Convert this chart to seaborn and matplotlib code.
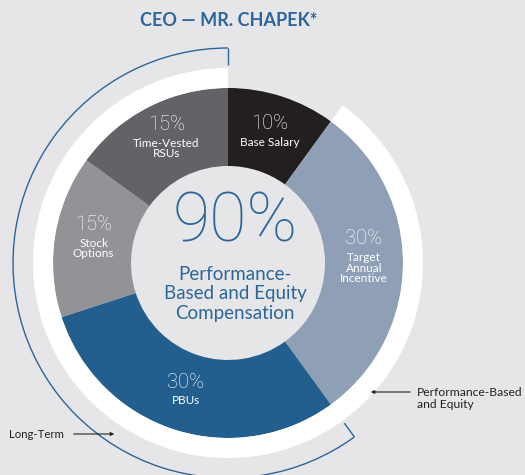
import numpy as np
import matplotlib
matplotlib.use("Agg")
import matplotlib.pyplot as plt
from matplotlib.patches import Arc
import seaborn as sns

# ---------------- data ----------------
title = "CEO — MR. CHAPEK*"
components = ["Base Salary", "Target\nAnnual\nIncentive", "PBUs", "Stock\nOptions", "Time-Vested\nRSUs"]
shares = [10, 30, 30, 15, 15]
share_labels = ["10%", "30%", "30%", "15%", "15%"]
perf_equity = [False, True, True, True, True]
long_term = [False, False, True, True, True]
center_value = "90%"
center_caption = "Performance-\nBased and Equity\nCompensation"
perf_label = "Performance-Based\nand Equity"
lt_label = "Long-Term"

# ---------------- style ----------------
sns.set_theme(style="white")
plt.rcParams["font.family"] = ["Lato", "DejaVu Sans"]
NUMFONT = ["Roboto", "DejaVu Sans"]
BG = "#e6e6e8"
BLUE = "#2b6599"
colors = sns.color_palette(["#231f20", "#8fa0b6", "#225f8f", "#929396", "#626366"])

fig = plt.figure(figsize=(5.25, 4.75), dpi=100, facecolor=BG)
ax = fig.add_axes([0, 0, 1, 1])
ax.set_facecolor(BG)

C = (228, 212)
R, R_IN = 175, 97
total = sum(shares)

# main donut
ax.pie(shares, colors=colors, startangle=90, counterclock=False, radius=R,
       center=C, wedgeprops=dict(width=R - R_IN, linewidth=0))

# white ring around performance-based and equity components
pe_sum = sum(s for s, p in zip(shares, perf_equity) if p)
ax.pie([total - pe_sum, pe_sum], colors=["none", "white"], startangle=90,
       counterclock=False, radius=R + 20, center=C,
       wedgeprops=dict(width=20, linewidth=0))

# long-term bracket arc
first_lt = long_term.index(True)
start_cw = 360 * sum(shares[:first_lt]) / total
end_cw = 360 * sum(shares) / total
th_start = 90 - end_cw
th_end = 90 - start_cw
RA = 215
ax.add_patch(Arc(C, 2 * RA, 2 * RA, theta1=th_start, theta2=th_end,
                 color=BLUE, lw=1.0))
for th in (th_start, th_end):
    t = np.deg2rad(th)
    ax.plot([C[0] + 198 * np.cos(t), C[0] + RA * np.cos(t)],
            [C[1] + 198 * np.sin(t), C[1] + RA * np.sin(t)],
            color=BLUE, lw=1.0, solid_capstyle="butt")

# segment labels
cum = 0
for name, s, lab in zip(components, shares, share_labels):
    mid = 360 * (cum + s / 2) / total
    cum += s
    t = np.deg2rad(90 - mid)
    x = C[0] + 136 * np.cos(t)
    y = C[1] + 136 * np.sin(t)
    n = name.count("\n") + 1
    ax.text(x, y + 10 + 7 * (n - 1), lab, ha="center", va="center",
            color="white", fontsize=14.5, fontweight="light", family=NUMFONT)
    ax.text(x, y - 3 + 7 * (n - 1), name, ha="center", va="top",
            color="white", fontsize=8.5, linespacing=0.95)

# centre text
ax.text(235, 252, center_value, ha="center", va="center", color=BLUE,
        fontsize=49, fontweight="light", family=NUMFONT)
ax.text(235, 181, center_caption, ha="center", va="center", color=BLUE,
        fontsize=13.5, linespacing=1.2)

# title
ax.text(229, 455, title, ha="center", va="center", color=BLUE,
        fontsize=13, fontweight="bold")

# annotations
ax.annotate("", xy=(368, 83), xytext=(413, 83),
            arrowprops=dict(arrowstyle="-|>", color="#222222", lw=0.8,
                            mutation_scale=5))
ax.text(417, 76.5, perf_label, ha="left", va="center", color="#222222",
        fontsize=8.7, linespacing=1.05)
ax.annotate("", xy=(117, 41), xytext=(71, 41),
            arrowprops=dict(arrowstyle="-|>", color="#222222", lw=0.8,
                            mutation_scale=5))
ax.text(64, 41, lt_label, ha="right", va="center", color="#222222",
        fontsize=8.2)

ax.set_xlim(0, 525)
ax.set_ylim(0, 475)
ax.set_aspect("equal")
ax.axis("off")
fig.savefig("out.png", dpi=100, facecolor=BG)
